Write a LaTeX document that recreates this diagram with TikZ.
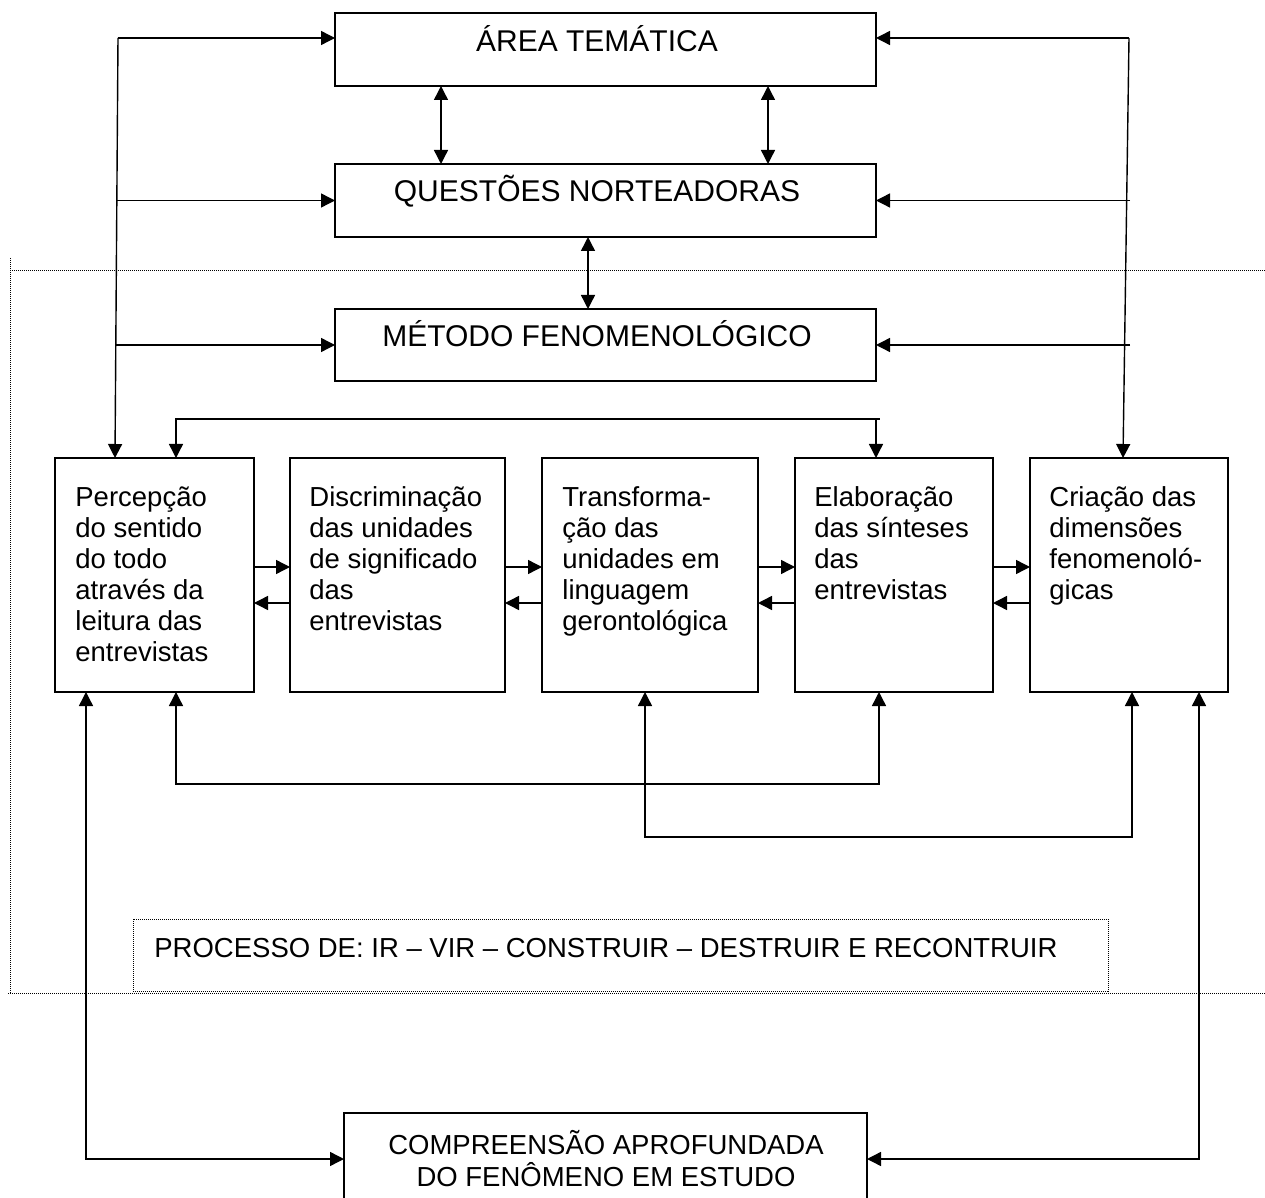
\documentclass[tikz,border=0pt]{standalone}
\usepackage{fontspec}
\setmainfont{Liberation Sans}
\usetikzlibrary{arrows.meta,calc}
\newcommand{\boxtext}[1]{\parbox[t]{95pt}{\raggedright #1}}
\begin{document}
\begin{tikzpicture}[x=0.5pt,y=-0.5pt,
  box/.style={draw, line width=0.7pt, inner sep=0pt, outer sep=0pt, rectangle, anchor=north west},
  con/.style={line width=0.7pt},
  arr/.style={con, -{Triangle[length=7pt,width=7pt]}},
  darr/.style={con, {Triangle[length=7pt,width=7pt]}-{Triangle[length=7pt,width=7pt]}},
  dots/.style={line width=0.5pt, dash pattern=on 0.5pt off 0.5pt},
  bigtxt/.style={font=\fontsize{15}{18}\selectfont, inner sep=0pt, anchor=base},
  ttxt/.style={font=\fontsize{13.75}{15.5}\selectfont, inner sep=0pt, anchor=base west},
]
\useasboundingbox (0,0) rectangle (1265,1198);
\clip (0,0) rectangle (1265,1198);

% top boxes
\node[box, minimum width=270.5pt, minimum height=36.5pt] (a) at (335,13) {};
\node[box, minimum width=270.5pt, minimum height=36.5pt] (q) at (335,164) {};
\node[box, minimum width=270.5pt, minimum height=36pt] (m) at (335,309) {};
\node[bigtxt] at (597,52) {ÁREA TEMÁTICA};
\node[bigtxt] at (597,202) {QUESTÕES NORTEADORAS};
\node[bigtxt] at (597,347) {MÉTODO FENOMENOLÓGICO};

% row boxes
\node[box, minimum width=99.5pt, minimum height=117pt] (b1) at (55,458) {};
\node[box, minimum width=107.5pt, minimum height=117pt] (b2) at (290,458) {};
\node[box, minimum width=108pt, minimum height=117pt] (b3) at (542,458) {};
\node[box, minimum width=99pt, minimum height=117pt] (b4) at (795,458) {};
\node[box, minimum width=99pt, minimum height=117pt] (b5) at (1030,458) {};

\node[ttxt] at (75,507) {\boxtext{Percepção\\do sentido\\do todo\\através da\\leitura das\\entrevistas}};
\node[ttxt] at (309,507) {\boxtext{Discriminação\\das unidades\\de significado\\das\\entrevistas}};
\node[ttxt] at (562,507) {\boxtext{Transforma-\\ção das\\unidades em\\linguagem\\gerontológica}};
\node[ttxt] at (814,507) {\boxtext{Elaboração\\das sínteses\\das\\entrevistas}};
\node[ttxt] at (1049,507) {\boxtext{Criação das\\dimensões\\fenomenoló-\\gicas}};

% bottom box
\node[box, minimum width=261.5pt, minimum height=46pt] (c) at (344,1113) {};
\node[font=\fontsize{13.75}{16}\selectfont, inner sep=0pt, anchor=base] at (606,1154)
  {\parbox[t]{300pt}{\centering COMPREENSÃO APROFUNDADA\\DO FENÔMENO EM ESTUDO}};

% dotted frame and process box
\draw[dots] (10,258) -- (10,993);
\draw[dots] (10,271) -- (1265,271);
\draw[dots] (8,993) -- (1265,993);
\node[box, dots, draw, minimum width=487.5pt, minimum height=36pt] (p) at (133,919) {};
\node[ttxt] at (154,957) {PROCESSO DE: IR – VIR – CONSTRUIR – DESTRUIR E RECONTRUIR};

% left spine
\coordinate (L1) at (118,38);
\draw[arr] (L1) -- (a.west |- L1);
\draw[arr] (L1) -- ($(b1.north west)+(60,0)$);
\draw[arr] (q.west -| 117,0) -- (q.west);
\draw[arr] (m.west -| 116,0) -- (m.west);

% right spine
\coordinate (R1) at (1129,38);
\draw[arr] (R1) -- (a.east |- R1);
\draw[arr] (R1) -- ($(b5.north west)+(93,0)$);
\draw[arr] (q.east -| 1130,0) -- (q.east);
\draw[arr] (m.east -| 1130,0) -- (m.east);

% vertical double arrows
\draw[darr] ($(a.south west)+(106,0)$) -- ($(q.north west)+(106,0)$);
\draw[darr] ($(a.south west)+(433,0)$) -- ($(q.north west)+(433,0)$);
\draw[darr] ($(q.south west)+(253,0)$) -- ($(m.north west)+(253,0)$);

% top loop b1 - b4
\draw[darr] ($(b1.north west)+(121,0)$) -- ++(0,-39) -| ($(b4.north west)+(81,0)$);
\draw[con] ($(b4.north west)+(81,-39)$) -- ++(4,0);

% horizontal arrows between row boxes
\foreach \u/\v in {b1/b2,b2/b3,b3/b4,b4/b5}{
  \draw[arr] ($(\u.north east)+(0,109)$) -- ($(\v.north west)+(0,109)$);
  \draw[arr] ($(\v.north west)+(0,145)$) -- ($(\u.north east)+(0,145)$);
}

% bottom loops
\draw[darr] ($(b1.south west)+(121,0)$) -- ++(0,92) -| ($(b4.south west)+(84,0)$);
\draw[darr] ($(b3.south west)+(103,0)$) -- ++(0,145) -| ($(b5.south west)+(102,0)$);

% long connectors to bottom box
\draw[darr] ($(b1.south west)+(31,0)$) |- (c.west);
\draw[darr] ($(b5.south west)+(169,0)$) |- (c.east);
\end{tikzpicture}
\end{document}
